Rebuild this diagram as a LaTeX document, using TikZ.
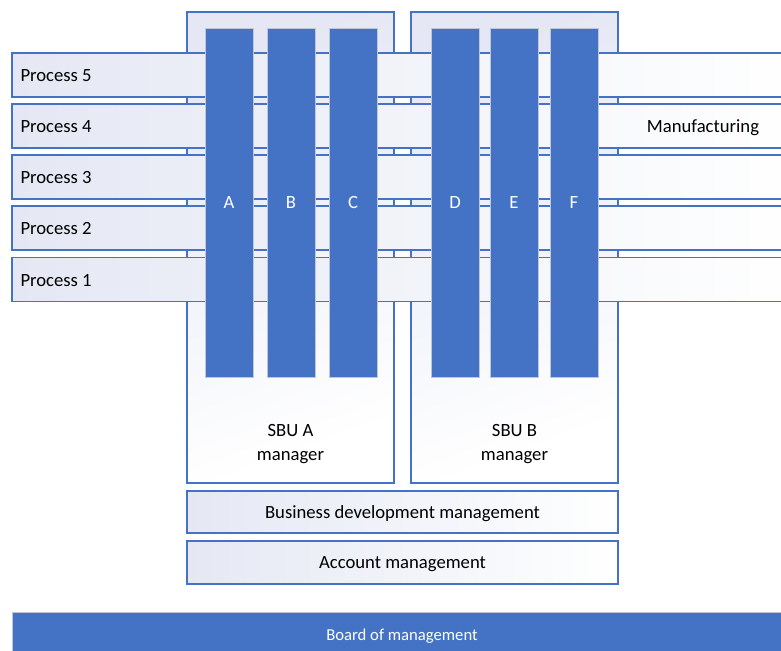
\documentclass[tikz,border=0pt]{standalone}
\usepackage{fontspec}
\setmainfont{Carlito}
\definecolor{obl}{RGB}{68,114,196}
\definecolor{lav}{RGB}{229,232,244}
\definecolor{colbd}{RGB}{190,198,215}
\begin{document}
\begin{tikzpicture}[x=0.75pt,y=-0.75pt,
  every node/.style={inner sep=0pt, outer sep=0pt},
  txt/.style={font=\fontsize{14}{18}\selectfont, text=black, text height=9pt, text depth=0pt},
  sbu/.style={draw=obl, line width=1.1pt, shade, top color=lav, bottom color=white, shading angle=20,
    minimum width=155.25pt, minimum height=353.25pt},
  row/.style={draw=obl, line width=1.1pt, shade, left color=lav, right color=white,
    minimum width=591pt, minimum height=33pt},
  col/.style={draw=colbd, line width=0.6pt, fill=obl, minimum width=36pt, minimum height=261.75pt},
  coltxt/.style={txt, text=white},
  band/.style={draw=obl, line width=1.1pt, shade, left color=lav, right color=white,
    minimum width=323.25pt}
]
\useasboundingbox (0,0) rectangle (781,650);
% SBU boxes
\node[sbu] (sbuA) at (290.5,247.5) {};
\node[sbu] (sbuB) at (514.5,247.5) {};
% process rows
\node[row] (p5) at (406,75) {};
\node[row] (p4) at (406,126) {};
\node[row] (p3) at (406,177) {};
\node[row] (p2) at (406,228) {};
\node[row] (p1) at (406,279.5) {};
\node[txt, anchor=west] (t5) at (20.5,75.5) {Process 5};
\node[txt, anchor=west] (t4) at (20.5,126.5) {Process 4};
\node[txt, anchor=west] (t3) at (20.5,177.5) {Process 3};
\node[txt, anchor=west] (t2) at (20.5,228.5) {Process 2};
\node[txt, anchor=west] (t1) at (20.5,280) {Process 1};
\node[txt] (mfg) at (703,126.5) {Manufacturing};
% columns
\node[col] (cA) at (229,202.5) {};
\node[col] (cB) at (291,202.5) {};
\node[col] (cC) at (353,202.5) {};
\node[col] (cD) at (455,202.5) {};
\node[col] (cE) at (514,202.5) {};
\node[col] (cF) at (574,202.5) {};
\node[coltxt] (lcA) at (cA) {A};
\node[coltxt] (lcB) at (cB) {B};
\node[coltxt] (lcC) at (cC) {C};
\node[coltxt] (lcD) at (cD) {D};
\node[coltxt] (lcE) at (cE) {E};
\node[coltxt] (lcF) at (cF) {F};
% SBU labels
\node[font=\fontsize{14}{18}\selectfont, align=center] (lA) at (290.5,444) {SBU A\\manager};
\node[font=\fontsize{14}{18}\selectfont, align=center] (lB) at (514.5,444) {SBU B\\manager};
% bands
\node[band, minimum height=31.5pt] (bdm) at (402.5,512) {};
\node[band, minimum height=32.25pt] (acc) at (402.5,562.5) {};
\node[txt] (tbdm) at (bdm) {Business development management};
\node[txt] (tacc) at (acc) {Account management};
% board
\node[draw=colbd, line width=0.6pt, fill=obl, minimum width=591pt, minimum height=36pt] (board) at (406,636) {};
\node[font=\fontsize{12.5}{15}\selectfont, text=white, text height=8pt, text depth=0pt] (tboard) at (402,635) {Board of management};
\end{tikzpicture}
\end{document}
